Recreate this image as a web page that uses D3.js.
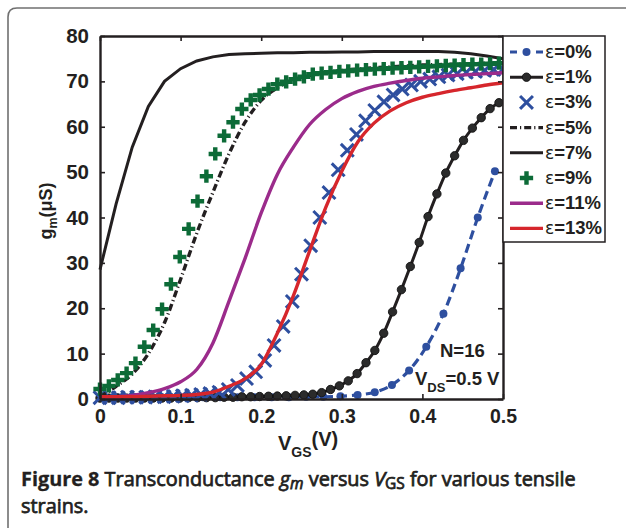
<!DOCTYPE html>
<html>
<head>
<meta charset="utf-8">
<script src="https://cdn.jsdelivr.net/npm/d3@7"></script>
<style>
body { margin: 0; background: #fff; }
svg { display: block; }
.ax text, .lab { font-family: "Liberation Sans", Arial, sans-serif; font-weight: bold; fill: #231f20; }
.cap { font-family: "Open Sans", "Noto Sans", sans-serif; fill: #231f20; stroke: #231f20; stroke-width: 0.75px; }
.cap .b { stroke-width: 0.3px; font-weight: 700; }
</style>
</head>
<body>
<svg width="626" height="528"></svg>
<script>
(function() {
	"use strict"

	// V_GS grids (V)
	var vgsLine = [0, 0.02, 0.04, 0.06, 0.08, 0.1, 0.12, 0.14, 0.16, 0.18, 0.2, 0.22, 0.24, 0.26, 0.28, 0.3, 0.32, 0.34, 0.36, 0.38, 0.4, 0.42, 0.44, 0.46, 0.48, 0.5],
		vgsMark = [0, .011, .022, .033, .044, .055, .066, .077, .088, .099, .11, .121, .132, .143, .154, .165, .176, .187, .198, .209, .22, .231, .242, .253, .264, .275, .286, .297, .308, .319, .33, .341, .352, .363, .374, .385, .396, .407, .418, .429, .44, .451, .462, .473, .484, .495],
		vgsCross = [0, .0114, .0227, .0341, .0455, .0568, .0682, .0795, .0909, .1023, .1136, .125, .1364, .1477, .1591, .1705, .1818, .1932, .2045, .2159, .2273, .2386, .25, .2614, .2727, .2841, .2955, .3068, .3182, .3295, .3409, .3523, .3636, .375, .3864, .3977, .4091, .4205, .4318, .4432, .4545, .4659, .4773, .4886, .5],
		vgsDot = [0, .0213, .0426, .0639, .0852, .1065, .1278, .1491, .1704, .1917, .213, .2343, .2557, .277, .2983, .3196, .3409, .3622, .3835, .4048, .4261, .4474, .4687, .49];

	// g_m (uS) for each strain
	var gm0 = [0.4, 0.4, 0.4, 0.4, 0.4, 0.4, 0.4, 0.4, 0.4, 0.4, 0.4, 0.4, 0.5, 0.5, 0.6, 0.9, 1.5, 3.1, 6.3, 11.5, 18.8, 28.8, 40.0, 50.2],
		gm1 = [0.2, 0.2, 0.2, 0.2, 0.2, 0.2, 0.2, 0.2, 0.2, 0.2, 0.3, 0.3, 0.3, 0.3, 0.4, 0.4, 0.5, 0.5, 0.55, 0.6, 0.65, 0.7, 0.8, 0.9, 1.05, 1.4, 2.1, 2.9, 4.0, 5.6, 8.0, 10.7, 14.5, 19.2, 24.1, 29.2, 34.5, 40.2, 45.2, 49.8, 53.6, 57, 59.7, 62, 64, 65.3],
		gm3 = [0.3, 0.3, 0.3, 0.4, 0.4, 0.4, 0.5, 0.5, 0.6, 0.7, 0.8, 1.0, 1.2, 1.5, 2.1, 3.0, 4.5, 6.0, 8.5, 11.8, 16, 21.5, 27.5, 33.8, 40, 45.5, 50.5, 54.8, 58.3, 61.3, 63.6, 65.5, 67, 68.3, 69.2, 70, 70.5, 71, 71.4, 71.7, 72, 72.2, 72.4, 72.6, 72.7],
		gm5 = [0.5, 2.8, 5.5, 10, 16.8, 26.4, 36.5, 45.5, 54, 61, 65.8, 68.6, 70.4, 71.3, 71.9, 72.4, 72.7, 73, 73.2, 73.4, 73.6, 73.7, 73.8, 73.9, 74, 74],
		gm7 = [28.5, 43, 55.5, 64.5, 70, 72.8, 74.5, 75.4, 75.9, 76.1, 76.2, 76.3, 76.3, 76.4, 76.4, 76.5, 76.5, 76.6, 76.6, 76.6, 76.6, 76.6, 76.4, 76.1, 75.6, 75.0],
		gm9 = [2.2, 2.9, 4.2, 5.7, 7.9, 11.5, 15.2, 19.8, 25.3, 31.3, 37.5, 43.6, 49.1, 54, 58, 61, 63.9, 65.9, 67, 68.3, 69.4, 69.9, 70.5, 71, 71.6, 71.8, 72.0, 72.2, 72.3, 72.5, 72.6, 72.7, 72.8, 72.9, 73.0, 73.1, 73.2, 73.3, 73.4, 73.5, 73.6, 73.7, 73.8, 73.8, 73.9, 74.0],
		gm11 = [0.4, 0.5, 0.8, 1.4, 2.3, 3.8, 6.5, 12.3, 21.5, 31, 41, 49.5, 55.5, 60.5, 63.8, 66.2, 67.8, 68.9, 69.6, 70.2, 70.7, 71.0, 71.3, 71.5, 71.7, 71.9],
		gm13 = [0.5, 0.5, 0.5, 0.6, 0.7, 0.8, 1.0, 1.5, 2.8, 4.5, 7.6, 14.5, 22.8, 32.6, 42.2, 50.2, 56.7, 60.8, 63.5, 65.3, 66.5, 67.3, 68, 68.6, 69.2, 69.7];

	var legendLabels = ["0%", "1%", "3%", "5%", "7%", "9%", "11%", "13%"],
		xTicks = [0, 0.1, 0.2, 0.3, 0.4, 0.5],
		yTicks = [0, 10, 20, 30, 40, 50, 60, 70, 80];

	var blue = "#2e4f9f", black = "#231f20", green = "#0c6b37", purple = "#9b2b8b", red = "#d6262c";

	// line, marker, colour per strain, in legend order
	var series = [
		{ x: vgsDot, y: gm0, color: blue, width: 3.2, dash: "9,5", mark: "dot" },
		{ x: vgsMark, y: gm1, color: black, width: 3, dash: null, mark: "circle" },
		{ x: vgsCross, y: gm3, color: blue, width: 0, dash: null, mark: "x" },
		{ x: vgsLine, y: gm5, color: black, width: 3.4, dash: "7,3,1.2,3", mark: null },
		{ x: vgsLine, y: gm7, color: black, width: 3, dash: null, mark: null, linear: true },
		{ x: vgsMark, y: gm9, color: green, width: 0, dash: null, mark: "plus" },
		{ x: vgsLine, y: gm11, color: purple, width: 3.4, dash: null, mark: null },
		{ x: vgsLine, y: gm13, color: red, width: 3.4, dash: null, mark: null }
	];

	var svg = d3.select("svg"),
		x = d3.scaleLinear().domain([0, 0.5]).range([100, 503]),
		y = d3.scaleLinear().domain([0, 80]).range([399, 36]);

	svg.append("rect").attr("width", 626).attr("height", 528).attr("fill", "#fff");

	// figure frame
	svg.append("path")
		.attr("d", "M8,528 L8,17 Q8,8 17,8 L626,8")
		.attr("fill", "none")
		.attr("stroke", "#707070")
		.attr("stroke-width", 1.6);

	function markPath(kind, g, pts, color) {
		if (kind === "dot") {
			g.selectAll("circle").data(pts).enter().append("circle")
				.attr("cx", function(d) { return d[0]; })
				.attr("cy", function(d) { return d[1]; })
				.attr("r", 4)
				.attr("fill", color);
		} else if (kind === "circle") {
			g.selectAll("circle").data(pts).enter().append("circle")
				.attr("cx", function(d) { return d[0]; })
				.attr("cy", function(d) { return d[1]; })
				.attr("r", 4.2)
				.attr("fill", "#2b2b2b")
				.attr("stroke", "#111")
				.attr("stroke-width", 0.9);
		} else if (kind === "x") {
			g.selectAll("path").data(pts).enter().append("path")
				.attr("d", d3.symbol().type(d3.symbolX).size(110))
				.attr("transform", function(d) { return "translate(" + d[0] + "," + d[1] + ")"; })
				.attr("fill", "none")
				.attr("stroke", color)
				.attr("stroke-width", 3);
		} else if (kind === "plus") {
			g.selectAll("path").data(pts).enter().append("path")
				.attr("d", d3.symbol().type(d3.symbolCross).size(98))
				.attr("transform", function(d) { return "translate(" + d[0] + "," + d[1] + ")"; })
				.attr("fill", color);
		}
	}

	var plot = svg.append("g");
	series.forEach(function(s) {
		var pts = s.x.map(function(v, i) { return [x(v), y(s.y[i])]; }),
			g = plot.append("g");
		if (s.width > 0) {
			g.append("path")
				.attr("d", d3.line().curve(s.linear ? d3.curveLinear : d3.curveMonotoneX)(pts))
				.attr("fill", "none")
				.attr("stroke", s.color)
				.attr("stroke-width", s.width)
				.attr("stroke-dasharray", s.dash);
		}
		if (s.mark) {
			markPath(s.mark, g, pts, s.color);
		}
	});

	// axes, ticks pointing inwards
	var fmt = function(d) { return d === 0 ? "0" : d3.format(".1f")(d); };
	var axB = svg.append("g").attr("class", "ax").attr("transform", "translate(0,399)")
		.call(d3.axisBottom(x).tickValues(xTicks).tickFormat(fmt).tickSizeInner(-5).tickSizeOuter(0).tickPadding(10));
	svg.append("g").attr("class", "ax").attr("transform", "translate(0,36)")
		.call(d3.axisTop(x).tickValues(xTicks).tickFormat("").tickSizeInner(-5).tickSizeOuter(0));
	var axL = svg.append("g").attr("class", "ax").attr("transform", "translate(100,0)")
		.call(d3.axisLeft(y).tickValues(yTicks).tickFormat(d3.format("d")).tickSizeInner(-5).tickSizeOuter(0).tickPadding(11));
	svg.append("g").attr("class", "ax").attr("transform", "translate(503,0)")
		.call(d3.axisRight(y).tickValues(yTicks).tickFormat("").tickSizeInner(-5).tickSizeOuter(0));
	svg.selectAll(".ax .domain").attr("stroke", black).attr("stroke-width", 2.4);
	svg.selectAll(".ax line").attr("stroke", black).attr("stroke-width", 1.6);
	axB.selectAll("text").attr("font-size", 19.5).attr("dy", "0.71em");
	axL.selectAll("text").attr("font-size", 20.5);

	// axis titles
	var yl = svg.append("text").attr("class", "lab")
		.attr("transform", "translate(52,211) rotate(-90)")
		.attr("text-anchor", "middle")
		.attr("font-size", 18);
	yl.append("tspan").text("g");
	yl.append("tspan").attr("font-size", 12.5).attr("dy", 5).text("m");
	yl.append("tspan").attr("dy", -5).text("(\u03bcS)");

	var xl = svg.append("text").attr("class", "lab")
		.attr("x", 278).attr("y", 450)
		.attr("font-size", 20);
	xl.append("tspan").text("V");
	xl.append("tspan").attr("font-size", 14).attr("dy", 7).text("GS");
	xl.append("tspan").attr("dy", -11).text("(V)");

	// annotations
	svg.append("text").attr("class", "lab").attr("x", 440).attr("y", 357).attr("font-size", 18.5).text("N=16");
	var vds = svg.append("text").attr("class", "lab").attr("x", 415).attr("y", 385).attr("font-size", 18.5);
	vds.append("tspan").text("V");
	vds.append("tspan").attr("font-size", 13).attr("dy", 7).text("DS");
	vds.append("tspan").attr("dy", -7).text("=0.5 V");

	// legend
	var lg = svg.append("g");
	lg.append("rect")
		.attr("x", 503).attr("y", 36).attr("width", 102).attr("height", 206)
		.attr("fill", "#fff").attr("stroke", black).attr("stroke-width", 1.5);
	series.forEach(function(s, i) {
		var cy = 52 + i * 25.2,
			row = lg.append("g");
		if (s.width > 0) {
			row.append("line")
				.attr("x1", 510).attr("x2", 543).attr("y1", cy).attr("y2", cy)
				.attr("stroke", s.color).attr("stroke-width", s.width)
				.attr("stroke-dasharray", s.mark === "dot" ? "7,19" : s.dash);
		}
		if (s.mark) {
			markPath(s.mark, row, [[526.5, cy]], s.color);
		}
		var t = row.append("text").attr("class", "lab")
			.attr("x", 545).attr("y", cy + 6).attr("font-size", 18.5);
		t.append("tspan").attr("font-family", "DejaVu Sans").attr("font-weight", "normal").attr("font-size", 17).text("\u03b5");
		t.append("tspan").text("=" + legendLabels[i]);
	});

	// caption
	var c1 = svg.append("text").attr("class", "cap").attr("x", 21).attr("y", 486).attr("font-size", 18);
	c1.append("tspan").attr("class", "b").text("Figure 8");
	c1.append("tspan").text(" Transconductance ");
	c1.append("tspan").attr("font-style", "italic").text("g");
	c1.append("tspan").attr("font-style", "italic").attr("font-size", 14).attr("dy", 3).text("m");
	c1.append("tspan").attr("dy", -3).text(" versus ");
	c1.append("tspan").attr("font-style", "italic").text("V");
	c1.append("tspan").attr("font-size", 14).attr("dy", 3).text("GS");
	c1.append("tspan").attr("dy", -3).text(" for various tensile");
	var c2 = svg.append("text").attr("class", "cap").attr("x", 21).attr("y", 513).attr("font-size", 18).text("strains.");

	var w = c1.node().getBBox().width, k = 555 / w;
	c1.attr("font-size", 18 * k);
	c1.selectAll("tspan").each(function() {
		var fs = d3.select(this).attr("font-size");
		if (fs) d3.select(this).attr("font-size", fs * k);
	});
	c2.attr("font-size", 18 * k);
})();
</script>
</body>
</html>
